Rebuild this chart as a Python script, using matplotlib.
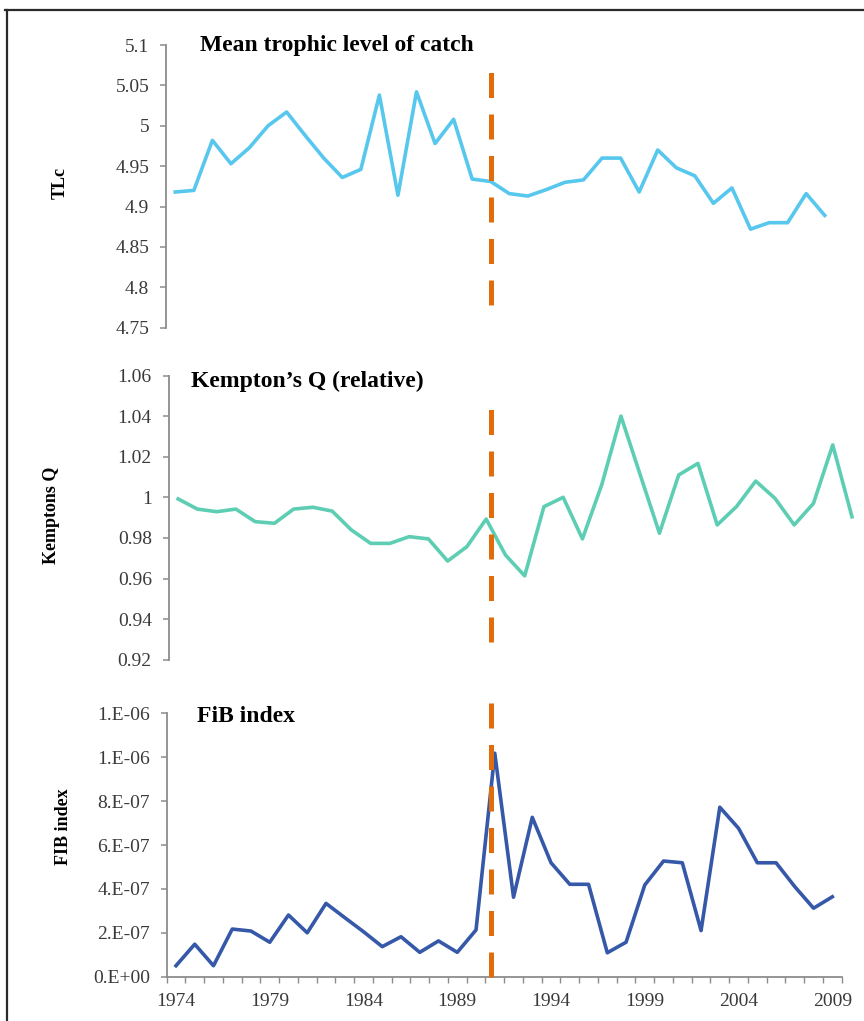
import matplotlib
matplotlib.use("Agg")
import matplotlib.pyplot as plt
from matplotlib.lines import Line2D

# ---------------- data ----------------
YEARS = list(range(1974, 2010))

TLC = [4.918, 4.920, 4.982, 4.953, 4.973, 5.000, 5.017, 4.988, 4.960, 4.936,
       4.946, 5.038, 4.914, 5.042, 4.978, 5.008, 4.934, 4.931, 4.916, 4.913,
       4.921, 4.930, 4.933, 4.960, 4.960, 4.918, 4.970, 4.948, 4.938, 4.904,
       4.923, 4.872, 4.880, 4.880, 4.916, 4.889]

KEMPTON_Q = [0.9992, 0.9942, 0.9929, 0.9942, 0.9880, 0.9872, 0.9942, 0.9951, 0.9932, 0.9839,
             0.9773, 0.9773, 0.9806, 0.9795, 0.9686, 0.9757, 0.9893, 0.9716, 0.9613, 0.9954,
             1.0000, 0.9795, 1.0061, 1.0400, 1.0111, 0.9823, 1.0110, 1.0167, 0.9864, 0.9954,
             1.0080, 0.9995, 0.9864, 0.9970, 1.0258, 0.9904]

FIB = [0.50e-7, 1.48e-7, 0.50e-7, 2.17e-7, 2.08e-7, 1.57e-7, 2.81e-7, 2.00e-7, 3.34e-7, 2.69e-7,
       2.05e-7, 1.37e-7, 1.82e-7, 1.11e-7, 1.63e-7, 1.11e-7, 2.13e-7, 10.18e-7, 3.62e-7, 7.26e-7,
       5.19e-7, 4.21e-7, 4.21e-7, 1.09e-7, 1.57e-7, 4.18e-7, 5.27e-7, 5.19e-7, 2.10e-7, 7.72e-7,
       6.76e-7, 5.19e-7, 5.19e-7, 4.10e-7, 3.12e-7, 3.64e-7]

TLC_TICKS = [4.75, 4.8, 4.85, 4.9, 4.95, 5.0, 5.05, 5.1]
TLC_TICK_LABELS = ["4.75", "4.8", "4.85", "4.9", "4.95", "5", "5.05", "5.1"]
KQ_TICKS = [0.92, 0.94, 0.96, 0.98, 1.0, 1.02, 1.04, 1.06]
KQ_TICK_LABELS = ["0.92", "0.94", "0.96", "0.98", "1", "1.02", "1.04", "1.06"]
FIB_TICKS = [0, 2e-7, 4e-7, 6e-7, 8e-7, 1.0e-6, 1.2e-6]
FIB_TICK_LABELS = ["0.E+00", "2.E-07", "4.E-07", "6.E-07", "8.E-07", "1.E-06", "1.E-06"]
XLABEL_YEARS = [1974, 1979, 1984, 1989, 1994, 1999, 2004, 2009]

BREAK_YEAR = 1991

TITLES = ["Mean trophic level of catch", "Kempton\u2019s Q (relative)", "FiB index"]
YLABELS = ["TLc", "Kemptons Q", "FIB index"]

# ---------------- style ----------------
W, H = 864, 1021
plt.rcParams["font.family"] = ["Liberation Serif", "DejaVu Serif"]
fig = plt.figure(figsize=(W / 100, H / 100), dpi=100)

def rect(left, right, top, bottom):
    return [left / W, 1 - bottom / H, (right - left) / W, (bottom - top) / H]

ax1 = fig.add_axes(rect(166.0, 834.0, 45.0, 327.7))
ax2 = fig.add_axes(rect(168.5, 861.6, 375.5, 659.7))
ax3 = fig.add_axes(rect(166.6, 841.7, 713.3, 976.7))

AXIS_GRAY = "#8c8c8c"
TICK_TXT = "#3a3a3a"
ORANGE = "#E36C0A"

def style(ax, ticks, labels, ylim):
    ax.set_xlim(YEARS[0] - 0.5, YEARS[-1] + 0.5)
    ax.set_ylim(*ylim)
    for s in ["top", "right", "bottom"]:
        ax.spines[s].set_visible(False)
    ax.spines["left"].set_color(AXIS_GRAY)
    ax.spines["left"].set_linewidth(1.3)
    ax.set_yticks(ticks)
    ax.set_yticklabels(labels)
    ax.tick_params(axis="y", direction="out", length=4, width=1.1, color=AXIS_GRAY,
                   labelsize=14, labelcolor=TICK_TXT, pad=8)
    ax.set_xticks([])
    ax.patch.set_alpha(0)

style(ax1, TLC_TICKS, TLC_TICK_LABELS, (4.75, 5.1))
style(ax2, KQ_TICKS, KQ_TICK_LABELS, (0.92, 1.06))
style(ax3, FIB_TICKS, FIB_TICK_LABELS, (0, 1.2e-6))

ax1.plot(YEARS, TLC, color="#57C7EE", lw=2.6, zorder=3)
ax2.plot(YEARS, KEMPTON_Q, color="#5DCEB3", lw=2.6, zorder=3)
ax3.plot(YEARS, FIB, color="#3558A8", lw=2.6, zorder=3)

# bottom x axis
ax3.spines["bottom"].set_visible(True)
ax3.spines["bottom"].set_color(AXIS_GRAY)
ax3.spines["bottom"].set_linewidth(1.3)
ax3.set_xticks([y - 0.5 for y in YEARS] + [YEARS[-1] + 0.5])
ax3.set_xticklabels([])
ax3.tick_params(axis="x", which="major", direction="out", length=4, width=1.0, color=AXIS_GRAY)
ax3.set_xticks(XLABEL_YEARS, minor=True)
ax3.set_xticklabels([str(y) for y in XLABEL_YEARS], minor=True)
ax3.tick_params(axis="x", which="minor", length=0, labelsize=14, labelcolor=TICK_TXT, pad=12)

# dashed break line: at BREAK_YEAR in the top panel, same figure x in the other panels
dash_kw = dict(color=ORANGE, lw=3.6, dashes=(5, 3.3), clip_on=False, zorder=4)
ax1.axvline(BREAK_YEAR, ymin=0.08, ymax=0.904, **dash_kw)
fig.canvas.draw()
disp_x = ax1.transData.transform((BREAK_YEAR, 0))[0]
mid_x = ax2.transData.inverted().transform((disp_x, 0))[0]
bot_x = ax3.transData.inverted().transform((disp_x, 0))[0]
ax2.axvline(mid_x, ymin=0.062, ymax=0.886, **dash_kw)
ax3.axvline(bot_x, ymin=0.0, ymax=1.043, **dash_kw)

# titles
fig.text(200 / W, 1 - 46 / H, TITLES[0], fontsize=17, fontweight="bold", va="center", ha="left")
fig.text(191 / W, 1 - 381 / H, TITLES[1], fontsize=17, fontweight="bold", va="center", ha="left")
fig.text(197 / W, 1 - 716 / H, TITLES[2], fontsize=17, fontweight="bold", va="center", ha="left")

# y labels
fig.text(60 / W, 1 - 183 / H, YLABELS[0], fontsize=13, fontweight="bold", rotation=90, va="center", ha="center")
fig.text(52 / W, 1 - 515 / H, YLABELS[1], fontsize=13, fontweight="bold", rotation=90, va="center", ha="center")
fig.text(64 / W, 1 - 827 / H, YLABELS[2], fontsize=13, fontweight="bold", rotation=90, va="center", ha="center")

# frame (top and left border)
fig.add_artist(Line2D([5 / W, 1.0], [1 - 10 / H, 1 - 10 / H], transform=fig.transFigure, color="#2a2a2a", lw=1.6))
fig.add_artist(Line2D([7 / W, 7 / W], [1 - 10 / H, 0.0], transform=fig.transFigure, color="#2a2a2a", lw=1.6))

fig.savefig("out.png", dpi=100)
